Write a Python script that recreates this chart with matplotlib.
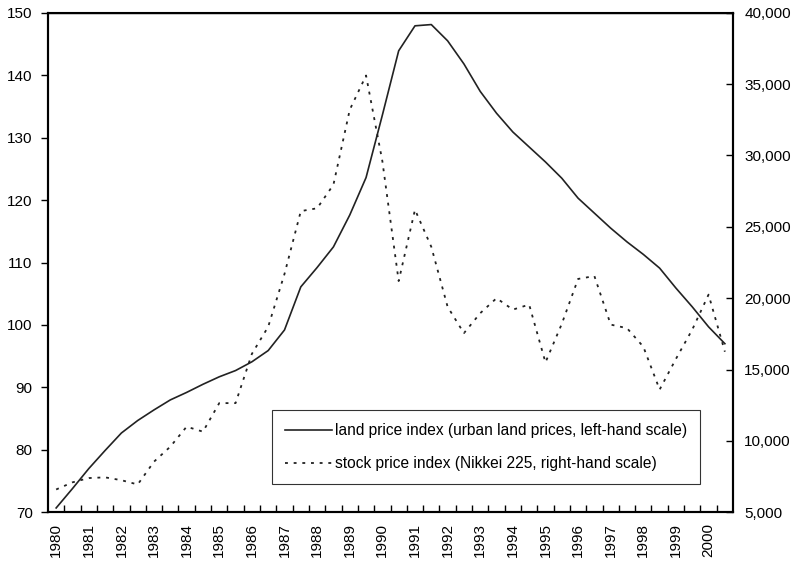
import matplotlib.pyplot as plt
import numpy as np

plt.rcParams['font.family'] = ['Liberation Sans', 'DejaVu Sans']

# Semestral data, 1980 H1 - 2000 H2
land = [70.7, 73.8, 77.0, 79.9, 82.7, 84.7, 86.4, 88.0, 89.2, 90.5,
        91.7, 92.7, 94.1, 95.9, 99.2, 106.1, 109.2, 112.5, 117.6, 123.6,
        133.6, 143.9, 147.9, 148.1, 145.5, 141.8, 137.4, 133.9, 130.9, 128.5,
        126.1, 123.5, 120.3, 117.9, 115.5, 113.3, 111.3, 109.1, 105.9, 102.9,
        99.7, 97.0]
stock = [6600, 7100, 7400, 7450, 7250, 6950, 8550, 9600, 11000, 10650,
         12650, 12650, 16100, 18000, 21700, 26100, 26300, 27950, 33200, 35600,
         29600, 21200, 26200, 23600, 19400, 17550, 18950, 20000, 19200, 19550,
         15500, 18200, 21350, 21550, 18150, 17900, 16600, 13600, 15750, 17800,
         20250, 16250]
years = [str(y) for y in range(1980, 2001)]

n = len(land)
x = np.arange(n) + 0.5

fig = plt.figure(figsize=(7.96, 5.62), dpi=100)
ax = fig.add_axes([0.0603, 0.0884, 0.8606, 0.889])
ax2 = ax.twinx()

l1, = ax.plot(x, land, color='#222222', lw=1.2,
              label='land price index (urban land prices, left-hand scale)')
l2, = ax2.plot(x, stock, color='#222222', lw=1.3, linestyle=(0, (1.6, 3.2)),
               label='stock price index (Nikkei 225, right-hand scale)')

ax.set_xlim(0, n)
ax.set_ylim(70, 150)
ax.set_yticks(range(70, 151, 10))
ax2.set_ylim(5000, 40000)
ax2.set_yticks(range(5000, 40001, 5000))
ax2.set_yticklabels([f'{v:,}' for v in range(5000, 40001, 5000)])

# category boundaries as ticks, year labels in between
ax.set_xticks(np.arange(1, n))
ax.set_xticklabels([])
ax.tick_params(axis='x', which='major', direction='in', length=5, width=1)
ax.set_xticks(x[::2], minor=True)
ax.set_xticklabels(years, minor=True, rotation=90, fontsize=11)
ax.tick_params(axis='x', which='minor', length=0, pad=8)

ax.tick_params(axis='y', direction='out', length=5, width=1, labelsize=11, pad=6)
ax2.tick_params(axis='y', direction='in', length=5, width=1, labelsize=11, pad=8)

for a in (ax, ax2):
    for s in a.spines.values():
        s.set_linewidth(1.5)
ax.spines['top'].set_linewidth(1.0)

leg = ax.legend(handles=[l1, l2], loc='upper left',
                bbox_to_anchor=(272 / 796, 1 - 410 / 562),
                bbox_transform=fig.transFigure, borderaxespad=0,
                fontsize=11.2, frameon=True, fancybox=False, shadow=False,
                handlelength=3.0, handletextpad=0.2, labelspacing=1.15,
                borderpad=0.85)
leg.get_frame().set_edgecolor('black')
leg.get_frame().set_linewidth(0.8)

fig.savefig('out.png', dpi=100)
